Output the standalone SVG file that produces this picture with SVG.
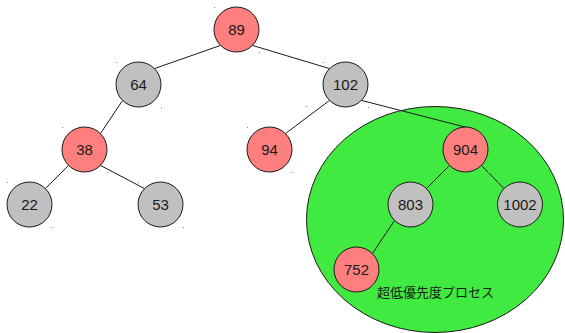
<svg xmlns="http://www.w3.org/2000/svg" width="565" height="333" viewBox="0 0 565 333">
  <style>
    .red { fill: #ff7f7f; stroke: #1a1a1a; stroke-width: 1; }
    .gray { fill: #c0c0c0; stroke: #1a1a1a; stroke-width: 1; }
    .zone { fill: #40ea40; stroke: #1a1a1a; stroke-width: 1; }
    .lbl { font-family: "Liberation Sans", Arial, sans-serif; font-size: 15px; fill: #1a1a1a; text-anchor: middle; }
    .cap { font-family: "Noto Sans CJK JP", "Noto Sans CJK SC", sans-serif; font-size: 13px; fill: #1a1a1a; }
    .edge { stroke: #1a1a1a; stroke-width: 1; fill: none; }
    .dot { fill: #8a8a8a; }
  </style>

  <!-- low-priority region -->
  <g id="region">
    <ellipse class="zone" cx="435" cy="219.5" rx="128.5" ry="113"/>
    <rect class="dot" x="306" y="106" width="1" height="1"/>
    <text class="cap" x="377" y="297">超低優先度プロセス</text>
  </g>

  <!-- tree edges -->
  <g id="edges">
    <line class="edge" x1="220.6" y1="45.4" x2="154.4" y2="68.6"/>
    <line class="edge" x1="252.4" y1="45.4" x2="329.6" y2="68.6"/>
    <line class="edge" x1="122.6" y1="100.4" x2="100.4" y2="133.6"/>
    <line class="edge" x1="329.6" y1="100.4" x2="285.4" y2="133.6"/>
    <line class="edge" x1="361.4" y1="100.4" x2="467" y2="127.5"/>
    <line class="edge" x1="68.6" y1="165.4" x2="45.4" y2="188.6"/>
    <line class="edge" x1="100.4" y1="165.4" x2="144.6" y2="188.6"/>
    <line class="edge" x1="449.6" y1="165.4" x2="426.4" y2="188.6"/>
    <line class="edge" x1="481.4" y1="165.4" x2="504.1" y2="188.6"/>
    <line class="edge" x1="394.6" y1="220.4" x2="372.4" y2="253.6"/>
  </g>

  <g id="n89">
    <circle class="red" cx="236.5" cy="29.5" r="22.5"/>
    <text class="lbl" x="236.5" y="35">89</text>
    <rect class="dot" x="214" y="7" width="1" height="1"/><rect class="dot" x="259" y="52" width="1" height="1"/>
  </g>
  <g id="n64">
    <circle class="gray" cx="138.5" cy="84.5" r="22.5"/>
    <text class="lbl" x="138.5" y="90">64</text>
    <rect class="dot" x="116" y="62" width="1" height="1"/><rect class="dot" x="161" y="107" width="1" height="1"/>
  </g>
  <g id="n102">
    <circle class="gray" cx="345.5" cy="84.5" r="22.5"/>
    <text class="lbl" x="345.5" y="90">102</text>
    <rect class="dot" x="323" y="62" width="1" height="1"/><rect class="dot" x="368" y="107" width="1" height="1"/>
  </g>
  <g id="n38">
    <circle class="red" cx="84.5" cy="149.5" r="22.5"/>
    <text class="lbl" x="84.5" y="155">38</text>
    <rect class="dot" x="62" y="127" width="1" height="1"/><rect class="dot" x="107" y="172" width="1" height="1"/>
  </g>
  <g id="n94">
    <circle class="red" cx="269.5" cy="149.5" r="22.5"/>
    <text class="lbl" x="269.5" y="155">94</text>
    <rect class="dot" x="247" y="127" width="1" height="1"/><rect class="dot" x="292" y="172" width="1" height="1"/>
  </g>
  <g id="n904">
    <circle class="red" cx="465.5" cy="149.5" r="22.5"/>
    <text class="lbl" x="465.5" y="155">904</text>
    <rect class="dot" x="443" y="127" width="1" height="1"/><rect class="dot" x="488" y="172" width="1" height="1"/>
  </g>
  <g id="n22">
    <circle class="gray" cx="29.5" cy="204.5" r="22.5"/>
    <text class="lbl" x="29.5" y="210">22</text>
    <rect class="dot" x="7" y="182" width="1" height="1"/><rect class="dot" x="52" y="227" width="1" height="1"/>
  </g>
  <g id="n53">
    <circle class="gray" cx="160.5" cy="204.5" r="22.5"/>
    <text class="lbl" x="160.5" y="210">53</text>
    <rect class="dot" x="138" y="182" width="1" height="1"/><rect class="dot" x="183" y="227" width="1" height="1"/>
  </g>
  <g id="n803">
    <circle class="gray" cx="410.5" cy="204.5" r="22.5"/>
    <text class="lbl" x="410.5" y="210">803</text>
    <rect class="dot" x="388" y="182" width="1" height="1"/><rect class="dot" x="433" y="227" width="1" height="1"/>
  </g>
  <g id="n1002">
    <circle class="gray" cx="520" cy="204.5" r="22.5"/>
    <text class="lbl" x="520" y="210">1002</text>
    <rect class="dot" x="498" y="182" width="1" height="1"/><rect class="dot" x="542" y="227" width="1" height="1"/>
  </g>
  <g id="n752">
    <circle class="red" cx="356.5" cy="269.5" r="22.5"/>
    <text class="lbl" x="356.5" y="275">752</text>
    <rect class="dot" x="334" y="247" width="1" height="1"/>
  </g>
</svg>
